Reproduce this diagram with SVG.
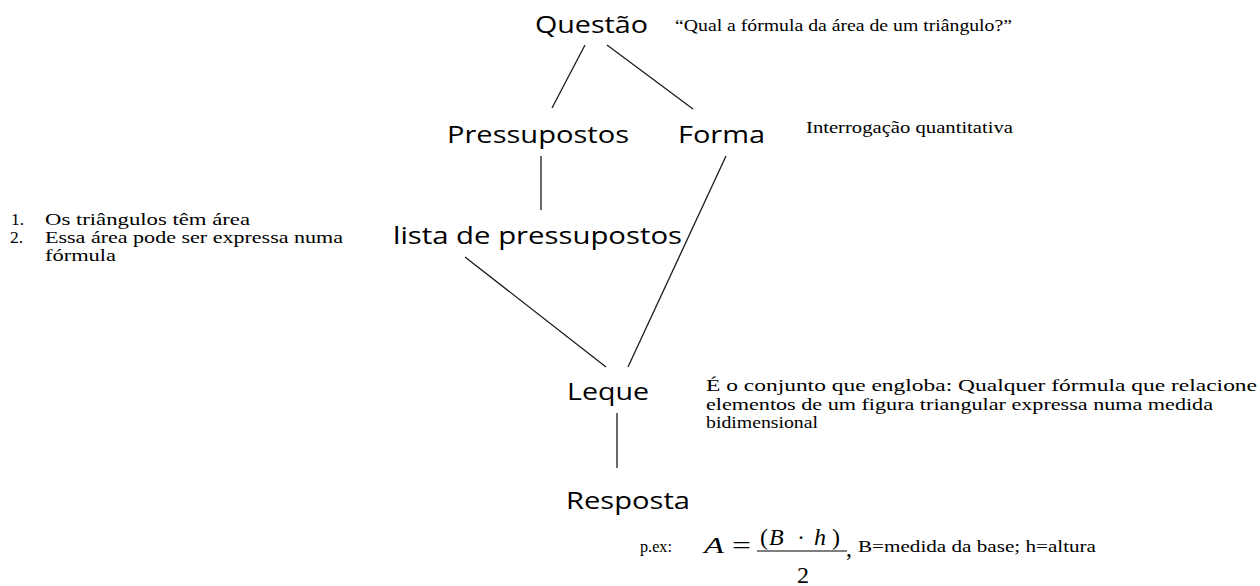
<svg xmlns="http://www.w3.org/2000/svg" width="1260" height="586" viewBox="0 0 1260 586">
<style>
.node{font-family:"Open Sans","Liberation Sans",sans-serif;font-size:24px;fill:#000}
.note{font-family:"Liberation Serif","Times New Roman",serif;font-size:17.5px;fill:#000}
.math{font-family:"Liberation Serif","Times New Roman",serif;fill:#000}
.it{font-style:italic}
.conn line{stroke:#1a1a1a;stroke-width:1.3}
</style>
<rect width="1260" height="586" fill="#fff"/>
<g id="connectors" class="conn">
<line x1="585" y1="45" x2="552" y2="108"/>
<line x1="607" y1="45" x2="693" y2="109"/>
<line x1="541" y1="156" x2="541" y2="210"/>
<line x1="726" y1="156" x2="628" y2="367"/>
<line x1="465" y1="257" x2="606" y2="367"/>
<line x1="617" y1="413" x2="617" y2="468" stroke="#444"/>
</g>
<g id="questao">
<text class="node" x="535" y="33" textLength="113" lengthAdjust="spacingAndGlyphs">Questão</text>
<text class="note" x="675" y="31" textLength="337" lengthAdjust="spacingAndGlyphs">“Qual a fórmula da área de um triângulo?”</text>
</g>
<g id="pressupostos">
<text class="node" x="447" y="143" textLength="182" lengthAdjust="spacingAndGlyphs">Pressupostos</text>
</g>
<g id="forma">
<text class="node" x="678" y="143" textLength="87" lengthAdjust="spacingAndGlyphs">Forma</text>
<text class="note" x="806" y="133" textLength="207" lengthAdjust="spacingAndGlyphs">Interrogação quantitativa</text>
</g>
<g id="lista">
<text class="node" x="393" y="244" textLength="289" lengthAdjust="spacingAndGlyphs">lista de pressupostos</text>
<text class="note" x="11" y="225">1.</text>
<text class="note" x="45" y="225" textLength="205" lengthAdjust="spacingAndGlyphs">Os triângulos têm área</text>
<text class="note" x="10" y="243">2.</text>
<text class="note" x="45" y="243" textLength="298" lengthAdjust="spacingAndGlyphs">Essa área pode ser expressa numa</text>
<text class="note" x="45" y="261" textLength="71" lengthAdjust="spacingAndGlyphs">fórmula</text>
</g>
<g id="leque">
<text class="node" x="567" y="400" textLength="82" lengthAdjust="spacingAndGlyphs">Leque</text>
<text class="note" x="706" y="391" textLength="551" lengthAdjust="spacingAndGlyphs">É o conjunto que engloba: Qualquer fórmula que relacione</text>
<text class="note" x="706" y="410" textLength="507" lengthAdjust="spacingAndGlyphs">elementos de um figura triangular expressa numa medida</text>
<text class="note" x="706" y="428" textLength="112" lengthAdjust="spacingAndGlyphs">bidimensional</text>
</g>
<g id="resposta">
<text class="node" x="566" y="509" textLength="124" lengthAdjust="spacingAndGlyphs">Resposta</text>
<text class="note" x="640" y="552" textLength="32" lengthAdjust="spacingAndGlyphs">p.ex:</text>
<text class="math it" x="704" y="553" font-size="24" textLength="20" lengthAdjust="spacingAndGlyphs">A</text>
<text class="math" x="732" y="553" font-size="24" textLength="19" lengthAdjust="spacingAndGlyphs">=</text>
<g class="math" font-size="24">
<text x="760" y="545">(</text>
<text class="it" x="769" y="545">B</text>
<text x="797" y="545">·</text>
<text class="it" x="814" y="545">h</text>
<text x="832" y="545">)</text>
<text x="797" y="583">2</text>
<text x="846" y="556">,</text>
</g>
<line x1="757" y1="551" x2="847" y2="551" stroke="#000" stroke-width="1.2"/>
<text class="note" x="858" y="552" textLength="238" lengthAdjust="spacingAndGlyphs">B=medida da base; h=altura</text>
</g>
</svg>
